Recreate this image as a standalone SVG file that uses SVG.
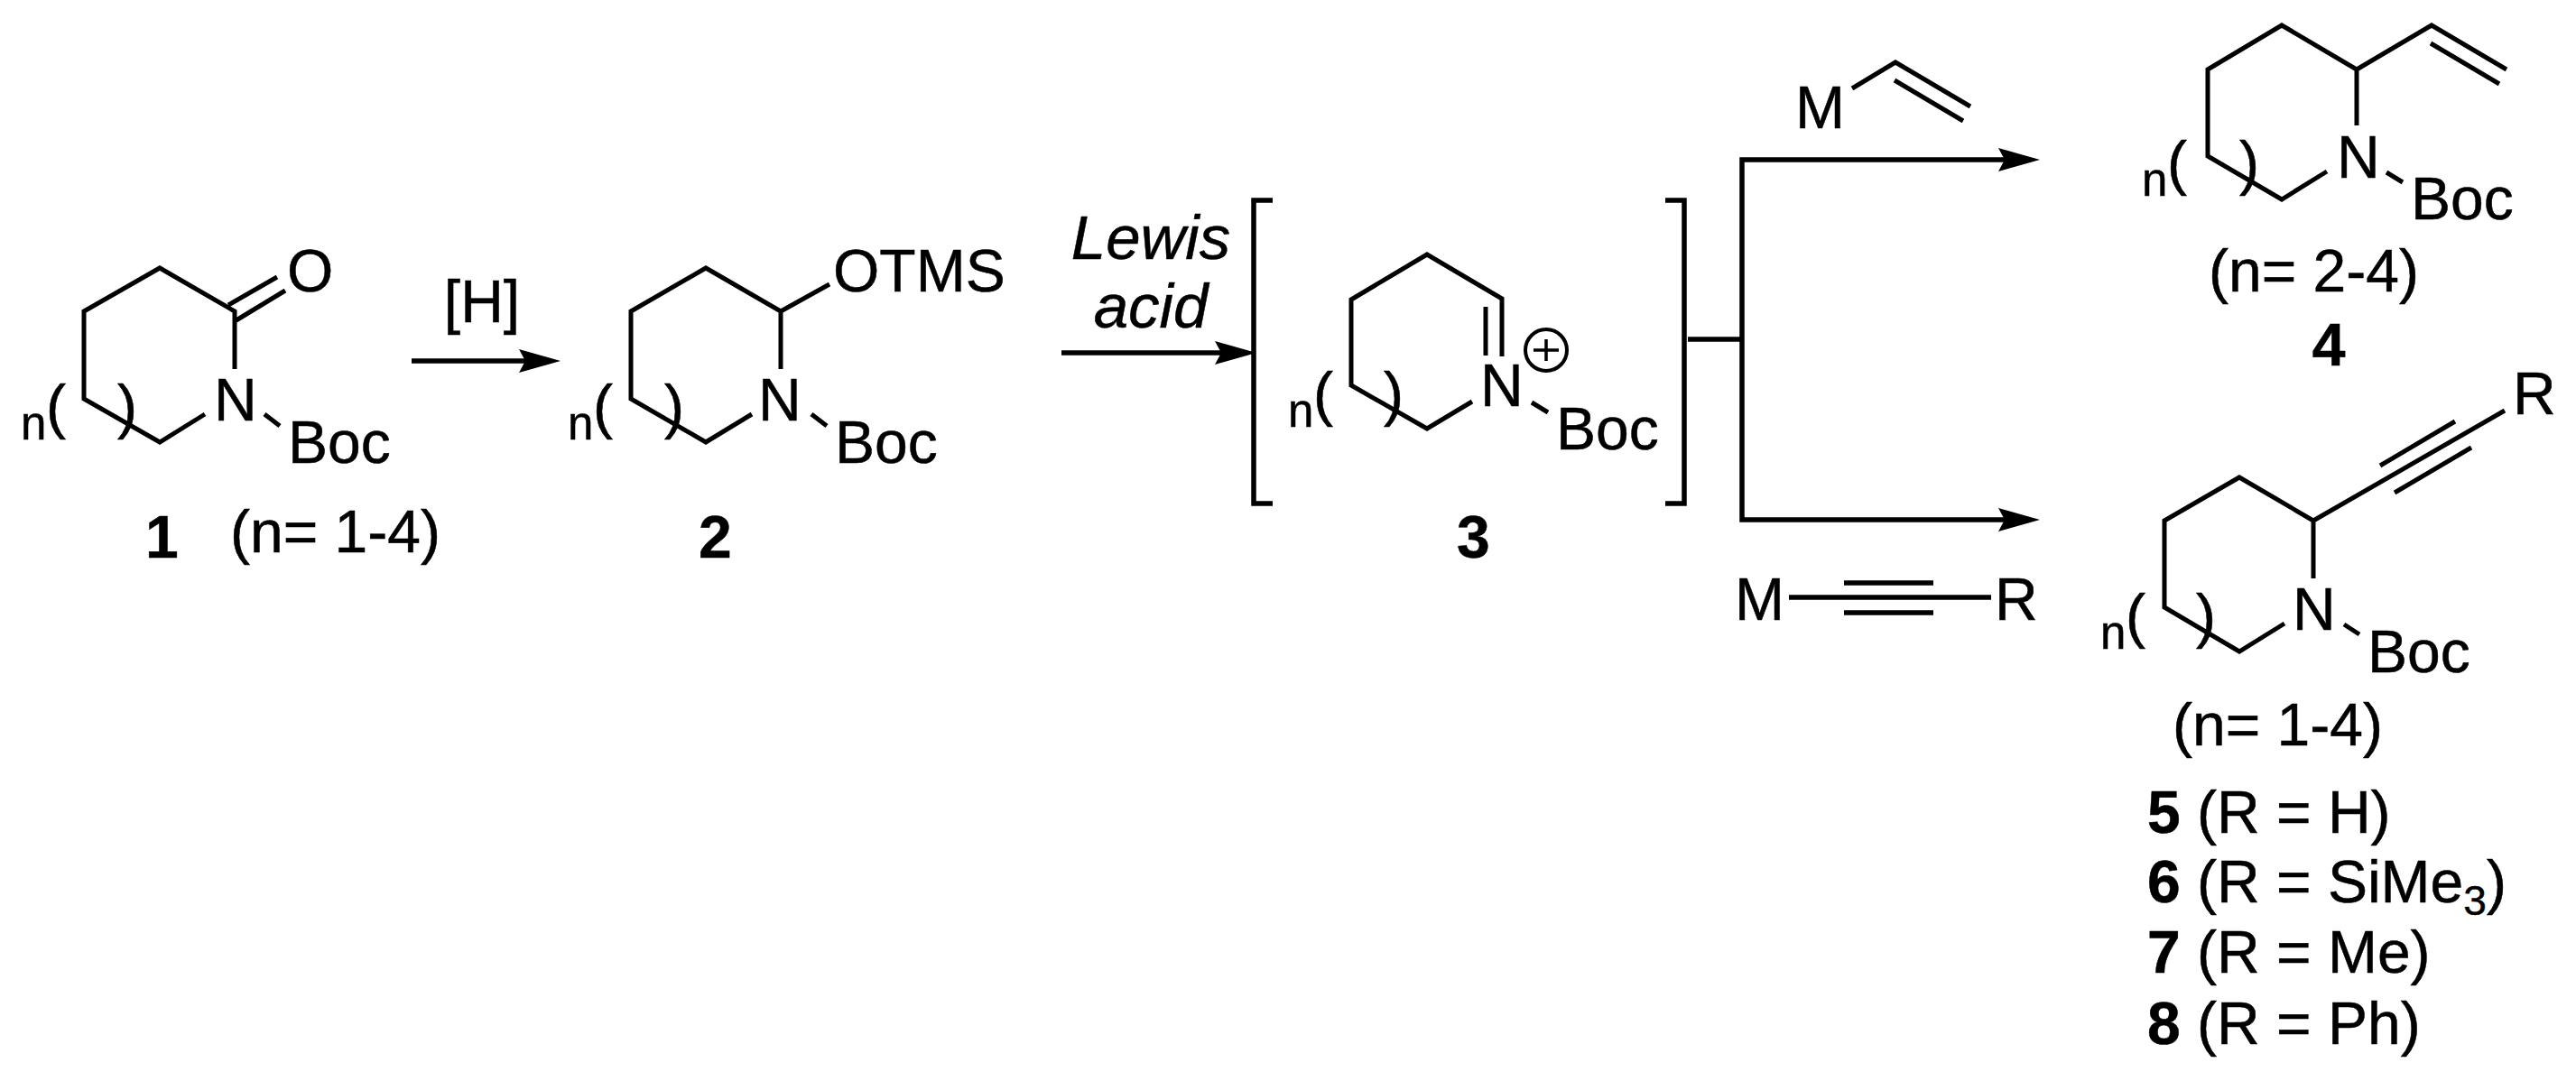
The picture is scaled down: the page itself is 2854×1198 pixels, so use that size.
<svg xmlns="http://www.w3.org/2000/svg" width="2854" height="1198" viewBox="0 0 2854 1198">
<style>
text{font-family:"Liberation Sans",Arial,sans-serif;font-size:66px;fill:#000;stroke:#000;stroke-width:.5}
.s{font-size:51px}
.b{font-weight:bold}
.i{font-style:italic;font-size:69px}
.m{text-anchor:middle}
.sub{font-size:46px}
.bond{fill:none;stroke:#000;stroke-width:5;stroke-linejoin:miter}
.ln{fill:none;stroke:#000;stroke-width:5.5}
.head{fill:#000;stroke:none}
</style>
<defs>
<marker id="ah" markerUnits="userSpaceOnUse" markerWidth="48" markerHeight="28" refX="46" refY="13" orient="auto"><path d="M0 0L46 13L0 26L7 13Z" class="head"/></marker>
</defs>
<rect width="2854" height="1198" fill="#fff"/>
<g id="connectors">
<path class="ln" d="M456 400H610" id="arrow-1-2"/><path class="head" d="M575 387L621 400L575 413L582 400Z"/>
<path class="ln" d="M1176 391H1380" id="arrow-2-3"/><path class="head" d="M1346 378L1392 391L1346 404L1353 391Z"/>
<path class="ln" d="M1870 376H1931"/>
<path class="ln" d="M1930 376V177H2248" id="arrow-3-4"/><path class="head" d="M2214 164L2260 177L2214 190L2221 177Z"/>
<path class="ln" d="M1930 376V576H2248" id="arrow-3-5"/><path class="head" d="M2214 563L2260 576L2214 589L2221 576Z"/>
</g>
<g id="node-1">
<path class="bond" d="M260 409V345L177 297L93 345V442L177 490L227 459M253 338L307 307M260 356L316 322M293 459L310 472"/>
<text x="318" y="323">O</text><text x="237" y="466">N</text><text x="319" y="513">Boc</text>
<text x="23" y="487" class="s">n</text><text x="51" y="473">(</text><text x="130" y="473">)</text>
<text x="161" y="618" class="b">1</text><text x="255" y="612">(n= 1-4)</text>
</g>
<g id="node-2">
<path class="bond" d="M865 409V345L782 297L699 345V442L782 490L833 459M865 345L919 315M899 459L916 472"/>
<text x="923" y="323">OTMS</text><text x="840" y="466">N</text><text x="925" y="513">Boc</text>
<text x="629" y="487" class="s">n</text><text x="657" y="473">(</text><text x="736" y="473">)</text>
<text x="774" y="618" class="b">2</text>
</g>
<g id="node-reagents"><text x="1275" y="287" class="i m">Lewis</text><text x="1275" y="363" class="i m">acid</text><text x="534" y="357" class="m">[H]</text></g>
<g id="node-3">
<path class="ln" d="M1410 222H1389V558H1410M1845 222H1866V558H1845"/>
<path class="bond" d="M1664 395V331L1581 282L1497 332V427L1581 475L1631 445M1646 340V394M1697 446L1715 457"/>
<ellipse cx="1713" cy="388" rx="23" ry="23" fill="none" stroke="#000" stroke-width="4"/>
<path class="bond" style="stroke-width:3.5" d="M1699 388H1727M1713 376V400"/>
<text x="1640" y="450">N</text><text x="1724" y="498">Boc</text>
<text x="1427" y="473" class="s">n</text><text x="1455" y="459">(</text><text x="1533" y="459">)</text>
<text x="1614" y="618" class="b">3</text>
</g>
<g id="node-vinyl-M">
<text x="1989" y="142">M</text>
<path class="bond" d="M2052 98L2100 69L2183 118M2099 89L2175 134"/>
</g>
<g id="node-4">
<path class="bond" d="M2611 139V77L2528 28L2446 77V173L2528 221L2578 190M2611 77L2694 28L2777 77M2693 48L2769 93M2644 191L2662 202"/>
<text x="2589" y="197">N</text><text x="2671" y="243">Boc</text>
<text x="2373" y="217" class="s">n</text><text x="2401" y="203">(</text><text x="2481" y="203">)</text>
<text x="2447" y="323">(n= 2-4)</text><text x="2580" y="405" class="b m">4</text>
</g>
<g id="node-alkyne-M">
<text x="1922" y="687">M</text><text x="2210" y="687">R</text>
<path class="ln" d="M1982 662H2206M2043 646H2142M2043 679H2142"/>
</g>
<g id="node-5">
<path class="bond" d="M2563 641V577L2481 529L2398 577V673L2481 722L2531 691M2563 577L2775 455M2637 516L2720 467M2653 546L2738 496M2597 692L2614 703"/>
<text x="2784" y="459">R</text><text x="2540" y="698">N</text><text x="2623" y="745">Boc</text>
<text x="2327" y="719" class="s">n</text><text x="2355" y="705">(</text><text x="2433" y="705">)</text>
<text x="2407" y="826">(n= 1-4)</text>
<text x="2379" y="923"><tspan class="b">5</tspan> (R = H)</text>
<text x="2379" y="1000"><tspan class="b">6</tspan> (R = SiMe<tspan class="sub" dy="14">3</tspan><tspan dy="-14">)</tspan></text>
<text x="2379" y="1078"><tspan class="b">7</tspan> (R = Me)</text>
<text x="2379" y="1157"><tspan class="b">8</tspan> (R = Ph)</text>
</g>
</svg>
